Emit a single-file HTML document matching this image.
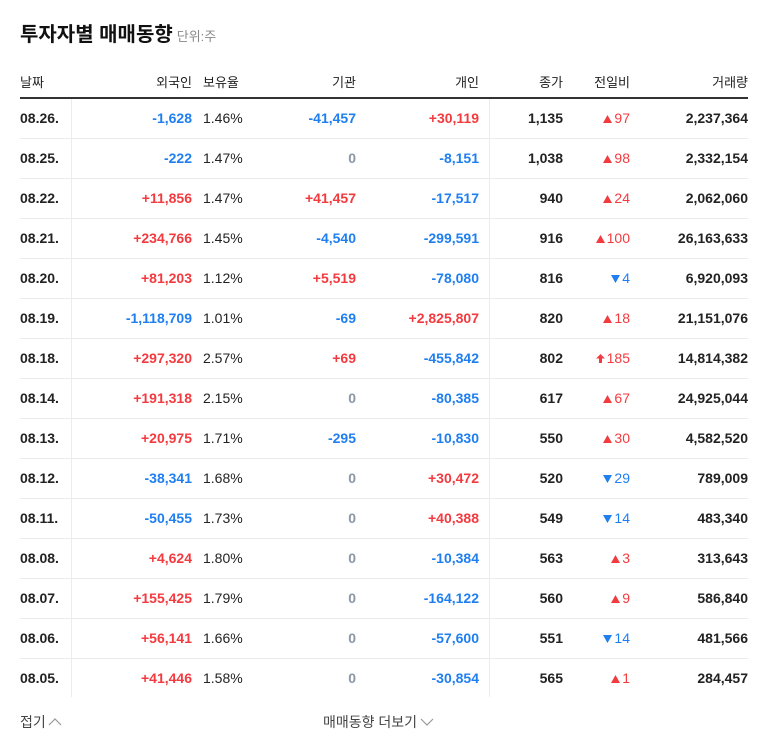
<!DOCTYPE html>
<html><head><meta charset="utf-8">
<style>
body{margin:0;background:#fff;width:768px;height:749px;overflow:hidden;font-family:"Liberation Sans","Noto Sans CJK KR",sans-serif;position:relative}
.a{position:absolute;white-space:nowrap}
.title{left:20px;top:18px;font-size:20px;font-weight:bold;color:#111}
.unit{font-size:13px;color:#888;font-weight:normal;margin-left:4px}
.hd{top:72px;font-size:13px;color:#222}
.c{font-size:14px;font-weight:bold;line-height:16px}
.red{color:#f33a3f}.blue{color:#1f7ff0}.gray{color:#8a95a5}.blk{color:#222}
.n{font-weight:normal}
.line{position:absolute;left:20px;width:728px;height:1px;background:#ececec}
.vl{position:absolute;width:1px;background:#ececec;top:99px;height:598px}
.foot{top:712px;font-size:14px;color:#444}
</style></head><body>
<div class="a title">투자자별 매매동향<span class="unit">단위:주</span></div>
<div class="a hd" style="left:20px">날짜</div>
<div class="a hd" style="right:576px">외국인</div>
<div class="a hd" style="left:203px">보유율</div>
<div class="a hd" style="right:412px">기관</div>
<div class="a hd" style="right:289px">개인</div>
<div class="a hd" style="right:205px">종가</div>
<div class="a hd" style="right:138px">전일비</div>
<div class="a hd" style="right:20px">거래량</div>
<div style="position:absolute;left:20px;top:97px;width:728px;height:2px;background:#333"></div>
<div class="vl" style="left:71px"></div>
<div class="vl" style="left:489px"></div>
<div id="rows"></div>
<div class="a foot" style="left:20px">접기<svg width="14" height="10" style="margin-left:2px" viewBox="0 0 14 10"><polyline points="1,8 7,2 13,8" fill="none" stroke="#999" stroke-width="1.2"/></svg></div>
<div class="a foot" style="left:323px">매매동향 더보기<svg width="14" height="10" style="margin-left:3px" viewBox="0 0 14 10"><polyline points="1,2 7,8 13,2" fill="none" stroke="#999" stroke-width="1.2"/></svg></div>
<script>
const dates=["08.26.","08.25.","08.22.","08.21.","08.20.","08.19.","08.18.","08.14.","08.13.","08.12.","08.11.","08.08.","08.07.","08.06.","08.05."];
const foreign=[-1628,-222,11856,234766,81203,-1118709,297320,191318,20975,-38341,-50455,4624,155425,56141,41446];
const holding=["1.46%","1.47%","1.47%","1.45%","1.12%","1.01%","2.57%","2.15%","1.71%","1.68%","1.73%","1.80%","1.79%","1.66%","1.58%"];
const institution=[-41457,0,41457,-4540,5519,-69,69,0,-295,0,0,0,0,0,0];
const individual=[30119,-8151,-17517,-299591,-78080,2825807,-455842,-80385,-10830,30472,40388,-10384,-164122,-57600,-30854];
const closes=[1135,1038,940,916,816,820,802,617,550,520,549,563,560,551,565];
const changes=[97,98,24,100,-4,18,185,67,30,-29,-14,3,9,-14,1];
const upperLimit=[false,false,false,false,false,false,true,false,false,false,false,false,false,false,false];
const volumes=[2237364,2332154,2062060,26163633,6920093,21151076,14814382,24925044,4582520,789009,483340,313643,586840,481566,284457];
const fmt=v=>Math.abs(v).toLocaleString('en-US');
const sgn=v=>v>0?'+'+fmt(v):v<0?'-'+fmt(v):'0';
const cls=v=>v>0?'red':v<0?'blue':'gray';
const root=document.getElementById('rows');
function cell(txt,c,style,name){const d=document.createElement('div');d.className='a c '+c;d.style.cssText=style;d.innerHTML=txt;


root.appendChild(d);}
dates.forEach((dt,i)=>{
 const y=110+i*40;
 cell(dt,'blk','left:20px;top:'+y+'px','date-'+i);
 cell(sgn(foreign[i]),cls(foreign[i]),'right:576px;top:'+y+'px','foreign-'+i);
 cell(holding[i],'blk n','left:203px;top:'+y+'px','holding-'+i);
 cell(sgn(institution[i]),cls(institution[i]),'right:412px;top:'+y+'px','institution-'+i);
 cell(sgn(individual[i]),cls(individual[i]),'right:289px;top:'+y+'px','individual-'+i);
 cell(fmt(closes[i]),'blk','right:205px;top:'+y+'px','close-'+i);
 const ch=changes[i];
 const col=ch>0?'#f33a3f':'#1f7ff0';
 let svg;
 if(upperLimit[i]) svg='<svg width="9" height="9" viewBox="0 0 9 9" style="margin-right:2px"><polygon points="4.5,0 9,4.5 6,4.5 6,9 3,9 3,4.5 0,4.5" fill="'+col+'"/></svg>';
 else if(ch>0) svg='<svg width="9" height="8" viewBox="0 0 9 8" style="margin-right:2px"><polygon points="4.5,0 9,8 0,8" fill="'+col+'"/></svg>';
 else svg='<svg width="9" height="8" viewBox="0 0 9 8" style="margin-right:2px"><polygon points="0,0 9,0 4.5,8" fill="'+col+'"/></svg>';
 cell(svg+fmt(ch),(ch>0?'red':'blue')+' n','right:138px;top:'+y+'px','change-'+i);
 cell(fmt(volumes[i]),'blk','right:20px;top:'+y+'px','volume-'+i);
 if(i<dates.length-1){const l=document.createElement('div');l.className='line';l.style.top=(138+i*40)+'px';
 
 
 root.appendChild(l);}
});
</script>
</body></html>
